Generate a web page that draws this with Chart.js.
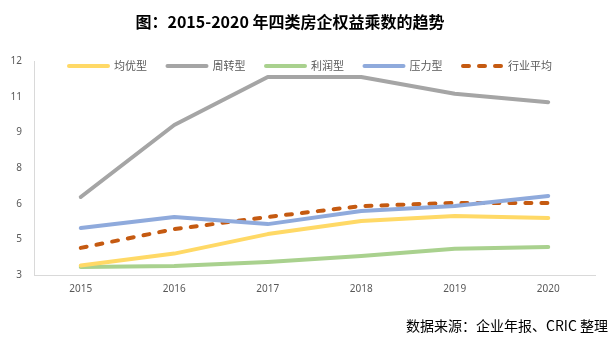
<!DOCTYPE html>
<html>
<head>
<meta charset="utf-8">
<script src="https://cdn.jsdelivr.net/npm/chart.js@4.4.1/dist/chart.umd.min.js"></script>
<style>
  html, body { margin: 0; padding: 0; background: #fff; }
  #wrap { position: relative; width: 612px; height: 342px; overflow: hidden; }
  #title { position: absolute; left: 0; width: 580px; top: 11px; text-align: center;
    font: bold 16px "Noto Sans CJK SC", sans-serif; color: #000; line-height: 20px; }
  #source { position: absolute; right: 4px; top: 315px;
    font: 14px "Noto Sans CJK SC", sans-serif; color: #000; line-height: 20px; }
  canvas { position: absolute; left: 0; top: 0; }
</style>
</head>
<body>
<div id="wrap">
  <canvas id="c" width="612" height="342"></canvas>
  <div id="title">图：2015-2020 年四类房企权益乘数的趋势</div>
  <div id="source">数据来源：企业年报、CRIC 整理</div>
</div>
<script>
const years = ['2015', '2016', '2017', '2018', '2019', '2020'];
const seriesNames = ['均优型', '周转型', '利润型', '压力型', '行业平均'];
const junyou = [3.40, 3.90, 4.72, 5.27, 5.48, 5.40];
const zhouzhuan = [6.28, 9.31, 11.33, 11.33, 10.62, 10.27];
const lirun = [3.34, 3.38, 3.55, 3.80, 4.10, 4.18];
const yali = [4.98, 5.44, 5.14, 5.69, 5.90, 6.32];
const hangye = [4.14, 4.93, 5.44, 5.90, 6.03, 6.03];
const yMin = 3, yMax = 12, yStep = 1.5;

const colors = ['#FFD966', '#A5A5A5', '#A9D18E', '#8FAADC', '#C55A11'];
const values = [junyou, zhouzhuan, lirun, yali, hangye];

const datasets = seriesNames.map((name, i) => ({
  label: name,
  data: values[i],
  borderColor: colors[i],
  backgroundColor: colors[i],
  borderWidth: 4,
  pointRadius: 0,
  tension: 0,
  fill: false,
  borderCapStyle: 'round',
  borderJoinStyle: 'round',
  borderDash: i === 4 ? [6, 10] : []
}));

const legendPlugin = {
  id: 'customLegend',
  afterDraw(chart) {
    const ctx = chart.ctx;
    ctx.save();
    const y = 66;
    ctx.font = '11px "Noto Sans CJK SC", sans-serif';
    ctx.textBaseline = 'middle';
    ctx.textAlign = 'left';
    chart.data.datasets.forEach((ds, i) => {
      const x0 = 67 + i * 98.5;
      ctx.beginPath();
      ctx.strokeStyle = ds.borderColor;
      ctx.lineWidth = 4;
      ctx.lineCap = 'round';
      ctx.setLineDash(ds.borderDash && ds.borderDash.length ? ds.borderDash : []);
      ctx.lineDashOffset = 0;
      ctx.moveTo(x0 + 2, y);
      ctx.lineTo(x0 + 41, y);
      ctx.stroke();
      ctx.setLineDash([]);
      ctx.fillStyle = '#595959';
      ctx.fillText(ds.label, x0 + 47, y);
    });
    ctx.restore();
  }
};

new Chart(document.getElementById('c'), {
  type: 'line',
  data: { labels: years, datasets },
  options: {
    responsive: false,
    animation: false,
    devicePixelRatio: 1,
    layout: { padding: { top: 61, left: 0, right: 17, bottom: 0 } },
    plugins: { legend: { display: false }, tooltip: { enabled: false }, title: { display: false } },
    scales: {
      x: {
        offset: true,
        grid: { display: true, color: 'rgba(0,0,0,0)', drawTicks: false },
        border: { display: true, color: '#D9D9D9', width: 1 },
        ticks: { color: '#595959', font: { family: '"Noto Sans", sans-serif', size: 10 }, padding: 8, maxRotation: 0 },
        afterFit(scale) { scale.height = 67; }
      },
      y: {
        min: yMin,
        max: yMax,
        grid: { display: true, color: 'rgba(0,0,0,0)', drawTicks: false },
        border: { display: true, color: '#D9D9D9', width: 1 },
        ticks: {
          stepSize: yStep,
          color: '#595959',
          font: { family: '"Noto Sans", sans-serif', size: 10 },
          padding: 12,
          callback: v => Math.round(v).toString()
        },
        afterFit(scale) { scale.width = 34; }
      }
    }
  },
  plugins: [legendPlugin]
});
</script>
</body>
</html>
